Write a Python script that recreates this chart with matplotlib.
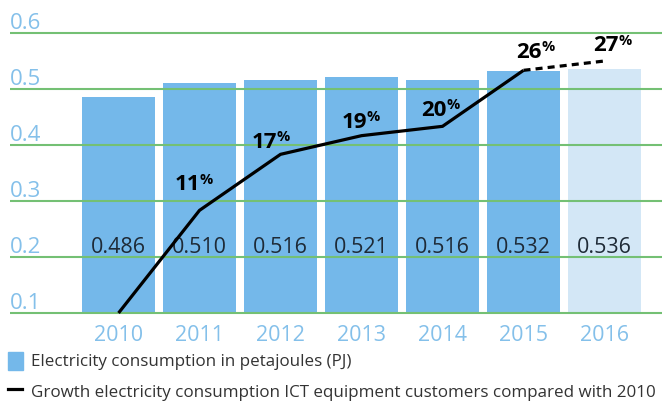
import matplotlib
matplotlib.use("Agg")
import matplotlib.pyplot as plt
from matplotlib.patches import Rectangle
from matplotlib.lines import Line2D
import matplotlib.transforms as mtransforms

plt.rcParams['font.family'] = ['Open Sans', 'DejaVu Sans']

# --- data ---
years = ['2010', '2011', '2012', '2013', '2014', '2015', '2016']
consumption_pj = [0.486, 0.510, 0.516, 0.521, 0.516, 0.532, 0.536]
growth_pct = [0, 11, 17, 19, 20, 26, 27]
y_ticks = [0.1, 0.2, 0.3, 0.4, 0.5, 0.6]
legend_labels = ['Electricity consumption in petajoules (PJ)',
                 'Growth electricity consumption ICT equipment customers compared with 2010']

# label nudges (pixels): horizontal shift of the number/percent split, rise above vertex
pct_dx = [0.5, -3.5, 5.5, 4.5, 18.5, 14.5]
pct_rise = [20, 6.6, 7.7, 10.6, 12.7, 9.7]

BAR = '#74b8ea'
BAR_LIGHT = '#d3e7f6'
GRID = '#74c074'
TICK = '#84c0ea'
TEXT = '#1e2a36'

W, H = 662, 401
fig = plt.figure(figsize=(W / 100, H / 100), dpi=100)
ax = fig.add_axes([10 / W, (H - 315.8) / H, 1 - 10 / W, (315.8 - 21.8) / H])
ymin, ymax = 0.095, 0.62
ax.set_ylim(ymin, ymax)
x = list(range(len(years)))
ax.set_xlim(-1.34, 6.71)
for s in ax.spines.values():
    s.set_visible(False)
ax.set_xticks([])
ax.set_yticks([])

# bars
colors = [BAR] * (len(years) - 1) + [BAR_LIGHT]
base = y_ticks[0]
ax.bar(x, [v - base for v in consumption_pj], bottom=base, width=0.9,
       color=colors, zorder=1)

# horizontal grid lines drawn over the bars
for t in y_ticks:
    ax.axhline(t, color=GRID, lw=1.5, zorder=2)

# y tick labels sitting above their grid lines
px = fig.dpi_scale_trans
for t in y_ticks:
    trans = mtransforms.blended_transform_factory(ax.transAxes, ax.transData) + \
        mtransforms.ScaledTranslation(0, 4 / 100, px)
    ax.text(0, t, f'{t:.1f}', transform=trans, ha='left', va='baseline',
            fontsize=16, color=TICK)

# value labels inside bars
for xi, v in zip(x, consumption_pj):
    ax.text(xi, 0.207, f'{v:.3f}', ha='center', va='baseline', fontsize=15.5,
            color=TEXT, zorder=3)

# year labels
for xi, yr in zip(x, years):
    trans = ax.transData + mtransforms.ScaledTranslation(0, -28 / 100, px)
    ax.text(xi, base, yr, transform=trans, ha='center', va='baseline',
            fontsize=15.5, color=TICK)

# growth line on a secondary scale: 0 % at 0.1, 30 % at 0.6
ax2 = ax.twinx()
ax2.set_position(ax.get_position())
ax2.set_ylim((ymin - 0.1) * 60, (ymax - 0.1) * 60)
ax2.set_xlim(ax.get_xlim())
ax2.axis('off')
ax2.plot(x[:-1], growth_pct[:-1], color='black', lw=2.3, solid_joinstyle='miter',
         solid_capstyle='butt', zorder=4)
ax2.plot(x[-2:], growth_pct[-2:], color='black', lw=2.3, ls=(0, (2.2, 1.6)),
         dash_capstyle='butt', zorder=4)

# percentage labels: bold number with a small raised percent sign
for xi, g, dx, rise in zip(x[1:], growth_pct[1:], pct_dx, pct_rise):
    off = mtransforms.ScaledTranslation(dx / 100, rise / 100, px)
    ax2.text(xi, g, f'{g}', transform=ax2.transData + off, ha='right',
             va='baseline', fontsize=16, fontweight='bold', color='black', zorder=5)
    off2 = mtransforms.ScaledTranslation((dx - 0.5) / 100, (rise + 17.5) / 100, px)
    ax2.text(xi, g, '%', transform=ax2.transData + off2, ha='left',
             va='top', fontsize=10.5, fontweight='bold', color='black', zorder=5)

# legend
fig.patches.append(Rectangle((8 / W, (H - 370) / H), 15 / W, 18 / H,
                             transform=fig.transFigure, color=BAR))
fig.lines.append(Line2D([8 / W, 22 / W], [(H - 389) / H] * 2,
                        transform=fig.transFigure, color='black', lw=2.3))
fig.text(31 / W, (H - 362) / H, legend_labels[0], ha='left', va='center',
         fontsize=12.25, color='#333333')
fig.text(31 / W, (H - 393) / H, legend_labels[1], ha='left', va='center',
         fontsize=12.25, color='#333333')

fig.savefig('out.png', dpi=100)
